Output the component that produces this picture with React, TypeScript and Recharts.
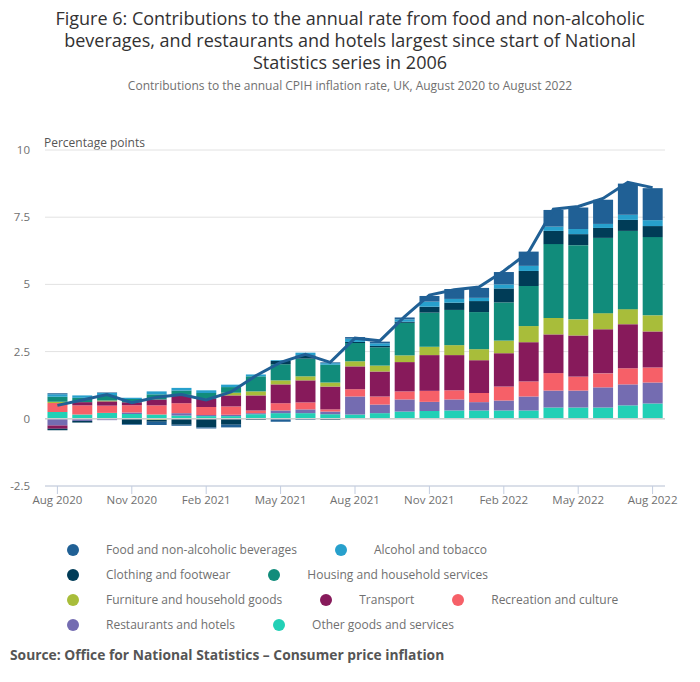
import { Bar, CartesianGrid, ComposedChart, Line, ReferenceLine, XAxis, YAxis } from "recharts";

const months = [
  "Aug 2020", "Sep 2020", "Oct 2020", "Nov 2020", "Dec 2020", "Jan 2021", "Feb 2021", "Mar 2021", "Apr 2021",
  "May 2021", "Jun 2021", "Jul 2021", "Aug 2021", "Sep 2021", "Oct 2021", "Nov 2021", "Dec 2021", "Jan 2022",
  "Feb 2022", "Mar 2022", "Apr 2022", "May 2022", "Jun 2022", "Jul 2022", "Aug 2022",
];

const cpih = [0.5, 0.7, 0.9, 0.6, 0.8, 0.9, 0.7, 1.0, 1.6, 2.1, 2.4, 2.1, 3.0, 2.9, 3.8, 4.6, 4.8, 4.9, 5.5, 6.2, 7.8, 7.9, 8.2, 8.8, 8.6];

const other = [0.25, 0.16, 0.22, 0.18, 0.16, 0.12, 0.1, 0.1, 0.17, 0.21, 0.21, 0.17, 0.16, 0.21, 0.27, 0.29, 0.31, 0.31, 0.31, 0.31, 0.42, 0.42, 0.42, 0.5, 0.57];
const restaurants = [-0.25, -0.08, -0.05, 0.05, 0, 0.09, 0.04, 0.05, 0.04, 0.1, 0.14, 0.1, 0.67, 0.32, 0.45, 0.34, 0.41, 0.31, 0.37, 0.52, 0.63, 0.63, 0.75, 0.78, 0.78];
const recreation = [0.34, 0.34, 0.27, 0.27, 0.34, 0.37, 0.3, 0.31, 0.1, 0.27, 0.26, 0.08, 0.27, 0.3, 0.3, 0.41, 0.34, 0.34, 0.52, 0.56, 0.65, 0.52, 0.52, 0.6, 0.56];
const transport = [-0.12, 0.12, 0.16, 0.12, 0.22, 0.31, 0.3, 0.41, 0.56, 0.7, 0.82, 0.85, 0.85, 0.93, 1.09, 1.33, 1.31, 1.22, 1.24, 1.46, 1.44, 1.53, 1.64, 1.64, 1.34];
const furniture = [0.04, 0, 0.03, 0, -0.04, 0, 0, 0.1, 0.15, 0.15, 0.15, 0.15, 0.19, 0.22, 0.25, 0.31, 0.37, 0.41, 0.47, 0.6, 0.61, 0.6, 0.6, 0.56, 0.6];
const housing = [0.19, 0.16, 0.2, 0.12, 0.19, 0.16, 0.22, 0.21, 0.56, 0.6, 0.66, 0.66, 0.68, 0.68, 1.21, 1.27, 1.31, 1.38, 1.42, 1.49, 2.75, 2.76, 2.8, 2.91, 2.91];
const clothing = [-0.06, -0.06, 0, -0.19, -0.07, -0.22, -0.32, -0.22, -0.04, 0.12, 0.12, -0.04, 0.04, 0.05, 0.04, 0.22, 0.27, 0.41, 0.52, 0.56, 0.49, 0.41, 0.37, 0.41, 0.41];
const alcohol = [0.09, 0.09, 0.08, 0.04, 0.11, 0.1, 0.1, 0.09, 0.07, 0.03, 0.1, 0.06, 0.12, 0.1, 0.09, 0.19, 0.14, 0.12, 0.15, 0.19, 0.16, 0.19, 0.15, 0.19, 0.22];
const food = [0.04, 0, 0.02, -0.03, -0.12, -0.04, -0.04, -0.1, 0, -0.11, -0.04, 0.03, 0.06, 0.06, 0.07, 0.21, 0.37, 0.37, 0.46, 0.53, 0.62, 0.8, 0.9, 1.16, 1.19];

const yTicks = [-2.5, 0, 2.5, 5, 7.5, 10];

const titleLines = [
  "Figure 6: Contributions to the annual rate from food and non-alcoholic",
  "beverages, and restaurants and hotels largest since start of National",
  "Statistics series in 2006",
];

// bottom of the stack first
const series = [
  { key: "other", name: "Other goods and services", color: "#22d0b6", values: other },
  { key: "restaurants", name: "Restaurants and hotels", color: "#746cb1", values: restaurants },
  { key: "recreation", name: "Recreation and culture", color: "#f66068", values: recreation },
  { key: "transport", name: "Transport", color: "#871a5b", values: transport },
  { key: "furniture", name: "Furniture and household goods", color: "#a8bd3a", values: furniture },
  { key: "housing", name: "Housing and household services", color: "#118c7b", values: housing },
  { key: "clothing", name: "Clothing and footwear", color: "#003c57", values: clothing },
  { key: "alcohol", name: "Alcohol and tobacco", color: "#27a0cc", values: alcohol },
  { key: "food", name: "Food and non-alcoholic beverages", color: "#206095", values: food },
];

const legendRows = [
  ["food", "alcohol"],
  ["clothing", "housing"],
  ["furniture", "transport", "recreation"],
  ["restaurants", "other"],
];

const data = months.map((month, i) => {
  const row: Record<string, string | number> = { month, cpih: cpih[i] };
  series.forEach((s) => (row[s.key] = s.values[i]));
  return row;
});

const grey = "#707070";

export default function App() {
  return (
    <div style={{ position: "absolute", left: 0, top: 0, width: 700, height: 682, fontFamily: "'Open Sans', sans-serif", background: "#fff" }}>
      {titleLines.map((t, i) => (
        <div
          key={i}
          style={{ position: "absolute", top: 8 + i * 22, width: 700, textAlign: "center", fontSize: 18, lineHeight: "20px", color: "#323132" }}
        >
          {t}
        </div>
      ))}
      <div style={{ position: "absolute", top: 77, width: 700, textAlign: "center", fontSize: 12, color: grey }}>
        Contributions to the annual CPIH inflation rate, UK, August 2020 to August 2022
      </div>
      <div style={{ position: "absolute", top: 134, left: 44, fontSize: 12, color: "#555" }}>Percentage points</div>

      <div style={{ position: "absolute", top: 0, left: 0 }}>
        <ComposedChart
          width={700}
          height={520}
          data={data}
          stackOffset="sign"
          barCategoryGap="10%"
          margin={{ top: 150, right: 35, left: 5, bottom: 4 }}
        >
          <CartesianGrid vertical={false} stroke="#e2e2e2" />
          <XAxis
            dataKey="month"
            interval={2}
            height={30}
            tick={{ fontSize: 11.5, fill: grey }}
            axisLine={{ stroke: "#c3cde0" }}
            tickLine={{ stroke: "#c3cde0" }}
            tickSize={8}
          />
          <YAxis
            width={40}
            domain={[-2.5, 10]}
            ticks={yTicks}
            tickFormatter={(v: number) => String(v)}
            axisLine={false}
            tickLine={false}
            tickSize={0}
            tickMargin={15}
            tick={{ fontSize: 11.5, fill: grey }}
          />
          <ReferenceLine y={0} stroke="#cfcfcf" strokeWidth={1.5} />
          {series.map((s) => (
            <Bar key={s.key} dataKey={s.key} name={s.name} stackId="a" fill={s.color} isAnimationActive={false} />
          ))}
          <Line type="linear" dataKey="cpih" stroke="#206095" strokeWidth={3} dot={false} isAnimationActive={false} />
        </ComposedChart>
      </div>

      <div style={{ position: "absolute", top: 537, left: 67, fontSize: 12, color: grey }}>
        {legendRows.map((row, r) => (
          <div key={r} style={{ display: "flex", height: 25, alignItems: "center" }}>
            {row.map((k) => {
              const s = series.find((x) => x.key === k)!;
              return (
                <div key={k} style={{ display: "flex", alignItems: "center", marginRight: 38 }}>
                  <span style={{ width: 12, height: 12, borderRadius: 6, background: s.color, display: "inline-block", marginRight: 27 }} />
                  <span>{s.name}</span>
                </div>
              );
            })}
          </div>
        ))}
      </div>

      <div style={{ position: "absolute", top: 645, left: 10, fontSize: 13.8, fontWeight: 700, color: "#555" }}>
        Source: Office for National Statistics – Consumer price inflation
      </div>
    </div>
  );
}
